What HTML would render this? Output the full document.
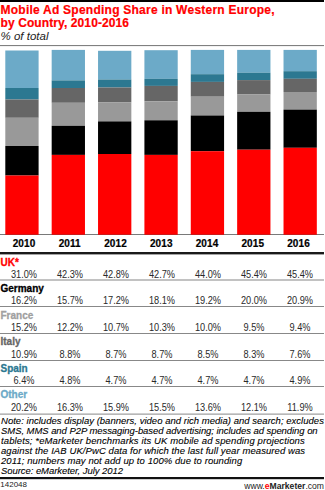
<!DOCTYPE html><html><head><meta charset="utf-8"><style>
html,body{margin:0;padding:0;width:325px;height:490px;overflow:hidden;background:#fff;position:relative}
*{font-family:"Liberation Sans",sans-serif}
.a{position:absolute;white-space:nowrap}
.t{color:#ff0000;font-weight:bold;font-size:12px;line-height:12px;left:0.5px;-webkit-text-stroke:0.2px #f00}
.sub{font-style:italic;font-size:11.5px;line-height:12px;left:0.5px;color:#222}
.yr{font-weight:bold;font-size:10px;letter-spacing:0.1px;line-height:10px;width:40px;text-align:center;-webkit-text-stroke:0.2px #000}
.cn{font-weight:bold;font-size:10px;line-height:10px;left:0.5px;-webkit-text-stroke:0.3px currentColor}
.v{font-size:10px;line-height:10px;width:46px;text-align:center;color:#2a2a2a;transform:scaleX(0.92);transform-origin:50% 0}
.note{font-style:italic;font-size:9.5px;line-height:10px;left:1px;color:#000;-webkit-text-stroke:0.1px #000}
</style></head><body>
<svg width="325" height="490" style="position:absolute;left:0;top:0"><rect x="0" y="0" width="324" height="2" fill="#000"/><rect x="0" y="45" width="324" height="1.1" fill="#808080"/><rect x="0" y="234" width="324" height="1" fill="#888"/><rect x="0" y="252" width="324" height="2.4" fill="#1a1a1a"/><rect x="0" y="279" width="324" height="2" fill="#c2c2c2"/><rect x="0" y="306" width="324" height="1" fill="#888888"/><rect x="0" y="333" width="324" height="1" fill="#888888"/><rect x="0" y="360" width="324" height="1" fill="#888888"/><rect x="0" y="386" width="324" height="1" fill="#888888"/><rect x="0" y="413.6" width="324" height="1" fill="#888888"/><rect x="0" y="477" width="324" height="2.2" fill="#111"/><rect x="5.30" y="50.5" width="33.3" height="37.50" fill="#6caac8"/><rect x="5.30" y="88" width="33.3" height="11.50" fill="#2c7891"/><rect x="5.30" y="99.5" width="33.3" height="18.30" fill="#666666"/><rect x="5.30" y="117.8" width="33.3" height="28.20" fill="#999999"/><rect x="5.30" y="146" width="33.3" height="29.50" fill="#000000"/><rect x="5.30" y="175.5" width="33.3" height="59.50" fill="#ff0000"/><rect x="51.67" y="49.9" width="33.3" height="30.50" fill="#6caac8"/><rect x="51.67" y="80.4" width="33.3" height="7.60" fill="#2c7891"/><rect x="51.67" y="88" width="33.3" height="14.80" fill="#666666"/><rect x="51.67" y="102.8" width="33.3" height="23.00" fill="#999999"/><rect x="51.67" y="125.8" width="33.3" height="29.10" fill="#000000"/><rect x="51.67" y="154.9" width="33.3" height="80.10" fill="#ff0000"/><rect x="98.04" y="50.8" width="33.3" height="28.70" fill="#6caac8"/><rect x="98.04" y="79.5" width="33.3" height="8.00" fill="#2c7891"/><rect x="98.04" y="87.5" width="33.3" height="14.70" fill="#666666"/><rect x="98.04" y="102.2" width="33.3" height="19.20" fill="#999999"/><rect x="98.04" y="121.4" width="33.3" height="32.60" fill="#000000"/><rect x="98.04" y="154" width="33.3" height="81.00" fill="#ff0000"/><rect x="144.41" y="50.2" width="33.3" height="28.60" fill="#6caac8"/><rect x="144.41" y="78.8" width="33.3" height="7.10" fill="#2c7891"/><rect x="144.41" y="85.9" width="33.3" height="15.40" fill="#666666"/><rect x="144.41" y="101.3" width="33.3" height="19.00" fill="#999999"/><rect x="144.41" y="120.3" width="33.3" height="34.60" fill="#000000"/><rect x="144.41" y="154.9" width="33.3" height="80.10" fill="#ff0000"/><rect x="190.78" y="49.9" width="33.3" height="24.30" fill="#6caac8"/><rect x="190.78" y="74.2" width="33.3" height="7.70" fill="#2c7891"/><rect x="190.78" y="81.9" width="33.3" height="14.80" fill="#666666"/><rect x="190.78" y="96.7" width="33.3" height="18.80" fill="#999999"/><rect x="190.78" y="115.5" width="33.3" height="35.70" fill="#000000"/><rect x="190.78" y="151.2" width="33.3" height="83.80" fill="#ff0000"/><rect x="237.15" y="49.9" width="33.3" height="22.80" fill="#6caac8"/><rect x="237.15" y="72.7" width="33.3" height="7.40" fill="#2c7891"/><rect x="237.15" y="80.1" width="33.3" height="14.40" fill="#666666"/><rect x="237.15" y="94.5" width="33.3" height="17.30" fill="#999999"/><rect x="237.15" y="111.8" width="33.3" height="37.90" fill="#000000"/><rect x="237.15" y="149.7" width="33.3" height="85.30" fill="#ff0000"/><rect x="283.52" y="49.9" width="33.3" height="21.30" fill="#6caac8"/><rect x="283.52" y="71.2" width="33.3" height="7.60" fill="#2c7891"/><rect x="283.52" y="78.8" width="33.3" height="13.20" fill="#666666"/><rect x="283.52" y="92" width="33.3" height="17.60" fill="#999999"/><rect x="283.52" y="109.6" width="33.3" height="38.20" fill="#000000"/><rect x="283.52" y="147.8" width="33.3" height="87.20" fill="#ff0000"/><rect x="0" y="234" width="324" height="1" fill="#555" fill-opacity="0.3"/></svg>
<div class="a t" style="top:4px;letter-spacing:0.24px">Mobile Ad Spending Share in Western Europe,</div>
<div class="a t" style="top:17px;letter-spacing:0.1px">by Country, 2010-2016</div>
<div class="a sub" style="top:30px">% of total</div>
<div class="a yr" style="top:239px;left:4.00px">2010</div>
<div class="a yr" style="top:239px;left:49.75px">2011</div>
<div class="a yr" style="top:239px;left:95.50px">2012</div>
<div class="a yr" style="top:239px;left:141.25px">2013</div>
<div class="a yr" style="top:239px;left:187.00px">2014</div>
<div class="a yr" style="top:239px;left:232.75px">2015</div>
<div class="a yr" style="top:239px;left:278.50px">2016</div>
<div class="a cn" style="top:258.00px;color:#ff0000">UK*</div>
<div class="a v" style="top:269.60px;left:0.90px">31.0%</div>
<div class="a v" style="top:269.60px;left:46.85px">42.3%</div>
<div class="a v" style="top:269.60px;left:92.80px">42.8%</div>
<div class="a v" style="top:269.60px;left:138.75px">42.7%</div>
<div class="a v" style="top:269.60px;left:184.70px">44.0%</div>
<div class="a v" style="top:269.60px;left:230.65px">45.4%</div>
<div class="a v" style="top:269.60px;left:276.60px">45.4%</div>
<div class="a cn" style="top:284.45px;color:#000000">Germany</div>
<div class="a v" style="top:296.25px;left:0.90px">16.2%</div>
<div class="a v" style="top:296.25px;left:46.85px">15.7%</div>
<div class="a v" style="top:296.25px;left:92.80px">17.2%</div>
<div class="a v" style="top:296.25px;left:138.75px">18.1%</div>
<div class="a v" style="top:296.25px;left:184.70px">19.2%</div>
<div class="a v" style="top:296.25px;left:230.65px">20.0%</div>
<div class="a v" style="top:296.25px;left:276.60px">20.9%</div>
<div class="a cn" style="top:310.90px;color:#a0a0a0">France</div>
<div class="a v" style="top:322.90px;left:0.90px">15.2%</div>
<div class="a v" style="top:322.90px;left:46.85px">12.2%</div>
<div class="a v" style="top:322.90px;left:92.80px">10.7%</div>
<div class="a v" style="top:322.90px;left:138.75px">10.3%</div>
<div class="a v" style="top:322.90px;left:184.70px">10.0%</div>
<div class="a v" style="top:322.90px;left:230.65px">9.5%</div>
<div class="a v" style="top:322.90px;left:276.60px">9.4%</div>
<div class="a cn" style="top:337.35px;color:#666666">Italy</div>
<div class="a v" style="top:349.55px;left:0.90px">10.9%</div>
<div class="a v" style="top:349.55px;left:46.85px">8.8%</div>
<div class="a v" style="top:349.55px;left:92.80px">8.7%</div>
<div class="a v" style="top:349.55px;left:138.75px">8.7%</div>
<div class="a v" style="top:349.55px;left:184.70px">8.5%</div>
<div class="a v" style="top:349.55px;left:230.65px">8.3%</div>
<div class="a v" style="top:349.55px;left:276.60px">7.6%</div>
<div class="a cn" style="top:363.80px;color:#2c7891">Spain</div>
<div class="a v" style="top:376.20px;left:0.90px">6.4%</div>
<div class="a v" style="top:376.20px;left:46.85px">4.8%</div>
<div class="a v" style="top:376.20px;left:92.80px">4.7%</div>
<div class="a v" style="top:376.20px;left:138.75px">4.7%</div>
<div class="a v" style="top:376.20px;left:184.70px">4.7%</div>
<div class="a v" style="top:376.20px;left:230.65px">4.7%</div>
<div class="a v" style="top:376.20px;left:276.60px">4.9%</div>
<div class="a cn" style="top:390.25px;color:#6caac8">Other</div>
<div class="a v" style="top:402.85px;left:0.90px">20.2%</div>
<div class="a v" style="top:402.85px;left:46.85px">16.3%</div>
<div class="a v" style="top:402.85px;left:92.80px">15.9%</div>
<div class="a v" style="top:402.85px;left:138.75px">15.5%</div>
<div class="a v" style="top:402.85px;left:184.70px">13.6%</div>
<div class="a v" style="top:402.85px;left:230.65px">12.1%</div>
<div class="a v" style="top:402.85px;left:276.60px">11.9%</div>
<div class="a note" style="top:416.00px;letter-spacing:0.025px">Note: includes display (banners, video and rich media) and search; excludes</div>
<div class="a note" style="top:426.05px;letter-spacing:-0.06px">SMS, MMS and P2P messaging-based advertising; includes ad spending on</div>
<div class="a note" style="top:436.10px;letter-spacing:0.12px">tablets; *eMarketer benchmarks its UK mobile ad spending projections</div>
<div class="a note" style="top:446.15px;letter-spacing:0.085px">against the IAB UK/PwC data for which the last full year measured was</div>
<div class="a note" style="top:456.20px;letter-spacing:0.083px">2011; numbers may not add up to 100% due to rounding</div>
<div class="a note" style="top:466.25px;letter-spacing:-0.06px">Source: eMarketer, July 2012</div>
<div class="a" style="top:481px;left:0.3px;font-size:8px;line-height:8px;color:#222">142048</div>
<div class="a" style="top:481.5px;right:1px;font-size:8.6px;line-height:8px;color:#222">www.<span style="color:#ff0000;font-weight:bold">e</span><b>Marketer</b>.com</div>
</body></html>
